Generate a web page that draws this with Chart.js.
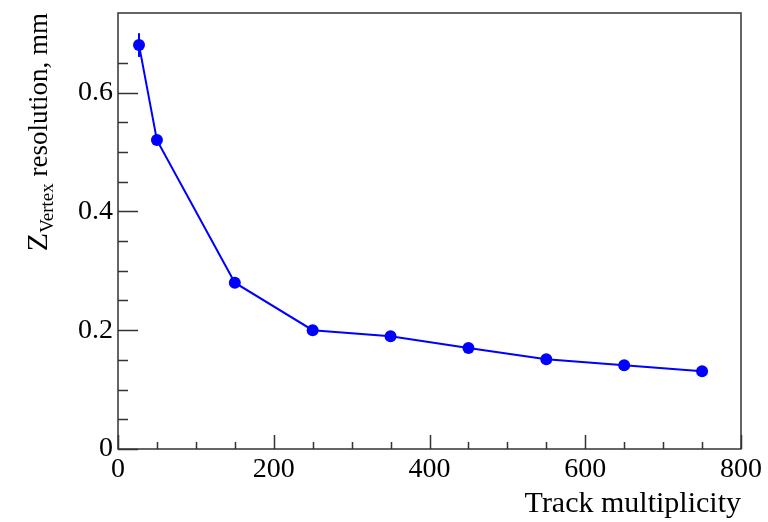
<!DOCTYPE html>
<html>
<head>
<meta charset="utf-8">
<script src="https://cdn.jsdelivr.net/npm/chart.js@4.4.1/dist/chart.umd.min.js"></script>
<style>
    html, body { margin: 0; padding: 0; background: #fff; }
</style>
</head>
<body>
<canvas id="grafico" width="768" height="522"></canvas>
<script>
// ===============================
// Resolución del vértice Z según multiplicidad de trazas
// ===============================

// Valores
const multiplicidad = [27, 50, 150, 250, 350, 450, 550, 650, 750];
const resolucion = [0.68, 0.52, 0.28, 0.20, 0.19, 0.17, 0.151, 0.141, 0.131];
const errorResolucion = [0.02, 0.008, 0.005, 0.004, 0.004, 0.004, 0.004, 0.004, 0.004];

// Marcas de los ejes
const xMarcasMayores = [0, 200, 400, 600, 800];
const yMarcasMayores = [0, 0.2, 0.4, 0.6];
const xPasoMenor = 50;
const yPasoMenor = 0.05;
const xMax = 800;
const yMax = 0.734;

const FUENTE = '"Liberation Serif", "DejaVu Serif", serif';
const AZUL = '#0000ff';

const esMayor = (v, lista) => lista.some(m => Math.abs(v - m) < 1e-6);
const esMultiplo = (v, paso) => Math.abs(v / paso - Math.round(v / paso)) < 1e-6;

/**
 * Dibuja las barras de error verticales bajo los marcadores.
 */
const pluginErrores = {
    id: 'errores',
    beforeDatasetsDraw(chart) {
        const { ctx, scales: { x, y } } = chart;
        ctx.save();
        ctx.strokeStyle = AZUL;
        ctx.lineWidth = 2;
        multiplicidad.forEach((m, i) => {
            const px = x.getPixelForValue(m);
            ctx.beginPath();
            ctx.moveTo(px, y.getPixelForValue(resolucion[i] - errorResolucion[i]));
            ctx.lineTo(px, y.getPixelForValue(resolucion[i] + errorResolucion[i]));
            ctx.stroke();
        });
        ctx.restore();
    }
};

/**
 * Marco, marcas hacia dentro (estilo ROOT) y títulos de los ejes.
 */
const pluginMarco = {
    id: 'marco',
    afterDraw(chart) {
        const { ctx, chartArea: a, scales: { x, y } } = chart;
        ctx.save();
        ctx.strokeStyle = '#333';
        ctx.lineWidth = 1.5;
        ctx.strokeRect(a.left, a.top, a.right - a.left, a.bottom - a.top);

        // Marcas del eje X
        ctx.beginPath();
        x.ticks.forEach(t => {
            if (!esMultiplo(t.value, xPasoMenor)) return;
            const px = Math.round(x.getPixelForValue(t.value)) + 0.5;
            const largo = esMayor(t.value, xMarcasMayores) ? 14 : 7;
            ctx.moveTo(px, a.bottom);
            ctx.lineTo(px, a.bottom - largo);
        });
        // Marcas del eje Y
        y.ticks.forEach(t => {
            if (!esMultiplo(t.value, yPasoMenor)) return;
            const py = Math.round(y.getPixelForValue(t.value)) + 0.5;
            const largo = esMayor(t.value, yMarcasMayores) ? 20 : 10;
            ctx.moveTo(a.left, py);
            ctx.lineTo(a.left + largo, py);
        });
        ctx.stroke();

        // Título X, alineado al final del eje
        ctx.fillStyle = '#000';
        ctx.font = `30px ${FUENTE}`;
        ctx.textAlign = 'right';
        ctx.textBaseline = 'alphabetic';
        ctx.fillText('Track multiplicity', a.right, 512);

        // Título Y con subíndice, girado
        ctx.translate(47, a.top);
        ctx.rotate(-Math.PI / 2);
        ctx.textAlign = 'left';
        const piezas = [
            { t: 'Z', f: 30, dy: 0 },
            { t: 'Vertex', f: 19, dy: 6 },
            { t: ' resolution, mm', f: 27, dy: 0 }
        ];
        let total = 0;
        piezas.forEach(p => {
            ctx.font = `${p.f}px ${FUENTE}`;
            p.w = ctx.measureText(p.t).width;
            total += p.w;
        });
        let cx = -total;
        piezas.forEach(p => {
            ctx.font = `${p.f}px ${FUENTE}`;
            ctx.fillText(p.t, cx, p.dy);
            cx += p.w;
        });
        ctx.restore();
    }
};

new Chart(document.getElementById('grafico'), {
    type: 'line',
    data: {
        datasets: [{
            data: multiplicidad.map((m, i) => ({ x: m, y: resolucion[i] })),
            borderColor: AZUL,
            borderWidth: 2,
            backgroundColor: AZUL,
            pointBackgroundColor: AZUL,
            pointBorderWidth: 0,
            pointRadius: 6,
            tension: 0
        }]
    },
    options: {
        responsive: false,
        animation: false,
        layout: { padding: { top: 13, right: 27, left: 0, bottom: 0 } },
        plugins: {
            legend: { display: false },
            tooltip: { enabled: false }
        },
        scales: {
            x: {
                type: 'linear',
                min: 0,
                max: xMax,
                grid: { display: false, drawTicks: false },
                border: { display: false },
                ticks: {
                    stepSize: xPasoMenor,
                    autoSkip: false,
                    maxRotation: 0,
                    padding: 4,
                    color: '#000',
                    font: { family: FUENTE, size: 28 },
                    callback: v => esMayor(v, xMarcasMayores) ? String(v) : ''
                },
                afterFit: s => {
                    s.height = 73;
                    s.paddingLeft = 0;
                    s.paddingRight = 0;
                }
            },
            y: {
                type: 'linear',
                min: 0,
                max: yMax,
                grid: { display: false, drawTicks: false },
                border: { display: false },
                ticks: {
                    stepSize: yPasoMenor,
                    autoSkip: false,
                    padding: 5,
                    color: '#000',
                    font: { family: FUENTE, size: 28 },
                    callback: v => esMayor(v, yMarcasMayores) ? String(Math.round(v * 10) / 10) : ''
                },
                afterFit: s => {
                    s.width = 118;
                    s.paddingTop = 0;
                    s.paddingBottom = 0;
                }
            }
        }
    },
    plugins: [pluginErrores, pluginMarco]
});
</script>
</body>
</html>
